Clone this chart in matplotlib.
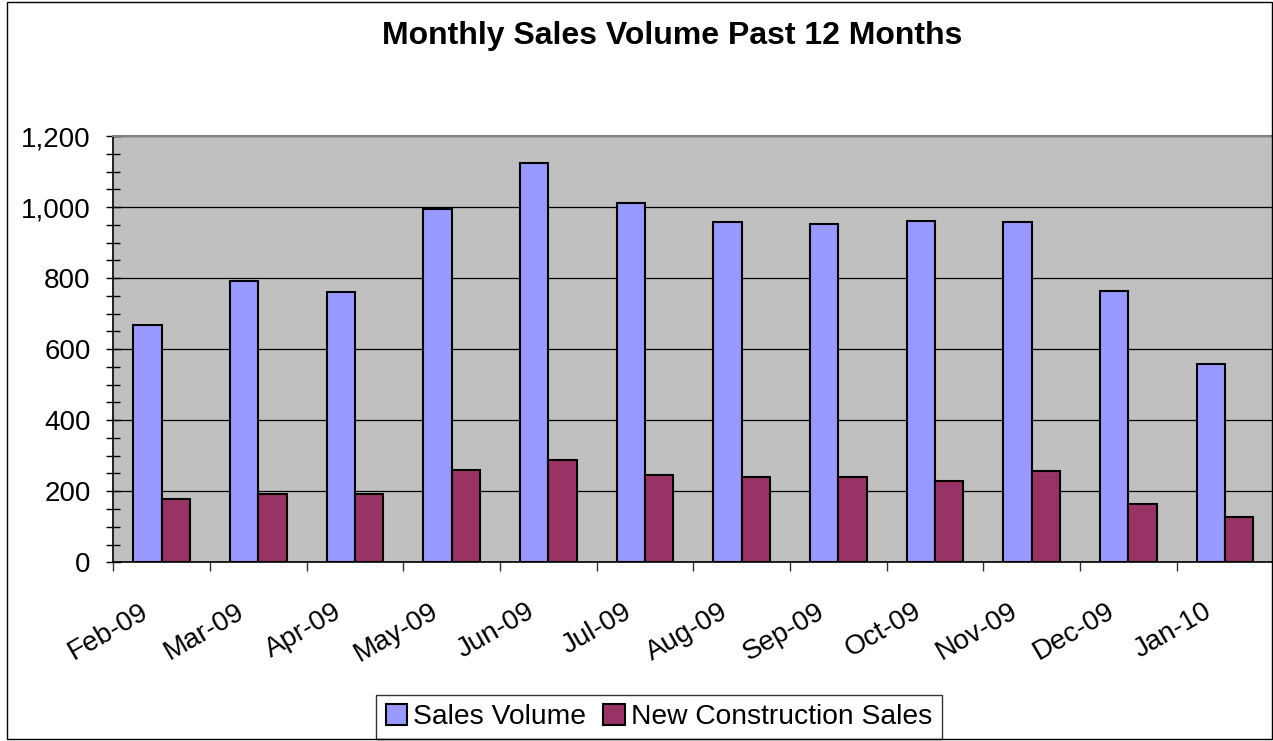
import matplotlib
matplotlib.use("Agg")
import matplotlib.pyplot as plt
from matplotlib.patches import Rectangle
from matplotlib.ticker import MultipleLocator, FixedLocator, NullFormatter, FixedFormatter
import numpy as np

months = ["Feb-09", "Mar-09", "Apr-09", "May-09", "Jun-09", "Jul-09",
          "Aug-09", "Sep-09", "Oct-09", "Nov-09", "Dec-09", "Jan-10"]
sales_volume = [669, 791, 761, 995, 1125, 1011, 957, 953, 960, 958, 764, 558]
new_construction = [178, 191, 192, 259, 288, 245, 240, 240, 230, 256, 164, 128]
y_ticks = [0, 200, 400, 600, 800, 1000, 1200]
y_tick_labels = ["0", "200", "400", "600", "800", "1,000", "1,200"]

plt.rcParams['font.family'] = ['Liberation Sans', 'DejaVu Sans']

W, H = 1273, 741
fig = plt.figure(figsize=(W / 100, H / 100), dpi=100)
fig.patch.set_facecolor('white')

left_px, right_px = 113.3, 1273.3
top_px, bot_px = 136.0, 562.3
ax = fig.add_axes([left_px / W, 1 - bot_px / H, (right_px - left_px) / W, (bot_px - top_px) / H])
ax.set_facecolor('#C0C0C0')

x = np.arange(len(months))
bw = 0.293
ax.bar(x - bw / 2, sales_volume, width=bw, color='#9999FF', edgecolor='black',
       linewidth=1.5, label='Sales Volume', zorder=3)
ax.bar(x + bw / 2, new_construction, width=bw, color='#993366', edgecolor='black',
       linewidth=1.5, label='New Construction Sales', zorder=3)

ax.set_xlim(-0.5, len(months) - 0.5)
ax.set_ylim(0, 1200)

# y axis
ax.yaxis.set_major_locator(FixedLocator(y_ticks))
ax.yaxis.set_major_formatter(FixedFormatter(y_tick_labels))
ax.yaxis.set_minor_locator(MultipleLocator(50))
ax.tick_params(axis='y', which='major', direction='inout', length=10.8, width=1,
               labelsize=20, pad=10.9, colors='black')
ax.tick_params(axis='y', which='minor', direction='inout', length=10.0, width=1)
ax.yaxis.grid(True, which='major', color='black', linewidth=0.9, zorder=1)
ax.set_axisbelow(True)

# x axis: boundary ticks + rotated category labels
ax.xaxis.set_major_locator(FixedLocator(np.arange(-0.5, len(months), 1.0)))
ax.xaxis.set_major_formatter(NullFormatter())
shift = 9 / 96.67
ax.xaxis.set_minor_locator(FixedLocator(x - shift))
ax.xaxis.set_minor_formatter(FixedFormatter(months))
ax.tick_params(axis='x', which='major', direction='out', length=6.5, width=1, color='#333333')
ax.tick_params(axis='x', which='minor', length=0, labelsize=20, pad=26, colors='black')
for lab in ax.get_xticklabels(minor=True):
    lab.set_rotation(30)
    lab.set_ha('right')
    lab.set_va('top')

for side in ['left', 'bottom']:
    ax.spines[side].set_color('black')
    ax.spines[side].set_linewidth(1.2)
for side in ['top', 'right']:
    ax.spines[side].set_color('#808080')
    ax.spines[side].set_linewidth(1.5)

fig.text(672 / W, 1 - 44 / H, "Monthly Sales Volume Past 12 Months", ha='center',
         va='baseline', fontsize=23, fontweight='bold')

leg = fig.legend(loc='center', bbox_to_anchor=(659 / W, 1 - 717 / H), ncol=2,
                 fontsize=20.3, frameon=True, fancybox=False, handlelength=0.76,
                 handleheight=0.76, handletextpad=0.22, columnspacing=0.6,
                 borderpad=0.33, borderaxespad=0)
leg.get_frame().set_edgecolor('black')
leg.get_frame().set_linewidth(1.0)

fig.add_artist(Rectangle((6.5 / W, 2.5 / H), (1271.5 - 6.5) / W, (739.5 - 2.5) / H,
                         transform=fig.transFigure, fill=False, edgecolor='black',
                         linewidth=1.0, zorder=10))

fig.savefig('out.png', dpi=100)
